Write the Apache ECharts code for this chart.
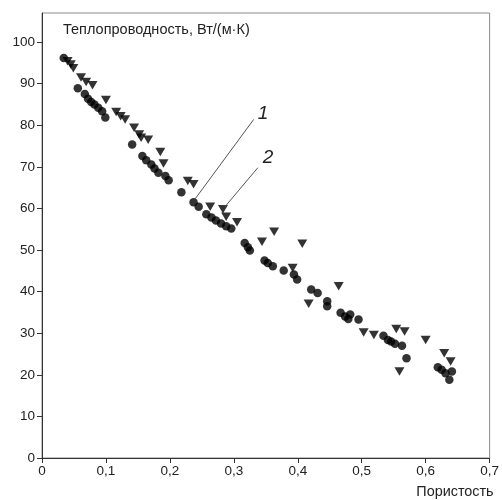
<!DOCTYPE html>
<html>
<head>
<meta charset="utf-8">
<script src="https://cdn.jsdelivr.net/npm/echarts@6/dist/echarts.min.js"></script>
<style>html,body{margin:0;padding:0;background:#fff}#c{width:502px;height:500px}</style>
</head>
<body>
<div id="c"></div>
<script>
// Series 1 (circles)
var series1 = [
  [0.034,96.2],[0.056,88.9],[0.067,87.5],[0.072,86.4],[0.077,85.6],[0.082,85.0],[0.088,84.2],[0.094,83.4],
  [0.099,81.9],[0.141,75.4],[0.157,72.6],[0.163,71.6],[0.171,70.6],[0.176,69.6],[0.182,68.6],[0.193,67.8],
  [0.198,66.8],[0.218,63.9],[0.237,61.5],[0.245,60.4],[0.257,58.6],[0.265,57.8],[0.272,57.1],[0.280,56.4],
  [0.288,55.7],[0.296,55.2],[0.317,51.7],[0.322,50.7],[0.325,49.9],[0.348,47.5],[0.353,46.9],[0.361,46.1],
  [0.378,45.1],[0.394,44.1],[0.399,42.9],[0.421,40.5],[0.431,39.7],[0.446,37.7],[0.446,36.5],[0.467,34.9],
  [0.474,34.0],[0.482,34.5],[0.479,33.4],[0.495,33.3],[0.534,29.4],[0.541,28.4],[0.546,28.0],[0.552,27.5],
  [0.563,27.0],[0.570,24.0],[0.619,21.8],[0.625,21.2],[0.631,20.4],[0.641,20.8],[0.637,18.8]
];
// Series 2 (triangles)
var series2 = [
  [0.040,95.4],[0.045,94.6],[0.049,93.7],[0.061,91.5],[0.069,90.4],[0.079,89.6],[0.100,86.1],
  [0.116,83.2],[0.123,82.2],[0.130,81.4],[0.144,79.4],[0.152,77.8],[0.155,77.0],[0.166,76.5],
  [0.185,73.6],[0.190,70.8],[0.228,66.6],[0.237,65.8],[0.263,60.4],[0.283,59.8],[0.288,58.0],
  [0.305,56.7],[0.344,52.0],[0.363,54.4],[0.392,45.7],[0.407,51.5],[0.417,37.1],[0.464,41.3],
  [0.503,30.2],[0.519,29.6],[0.554,31.0],[0.567,30.4],[0.559,20.8],[0.600,28.4],[0.629,25.2],[0.639,23.2]
];
// Leader lines for the curve labels: [from, to]
var leader1 = [[0.331,81.4],[0.2395,62.3]];
var leader2 = [[0.3375,69.8],[0.286,60.4]];
var labelPos = [[0.3456,82.7,'1'],[0.3533,72.2,'2']];
var xTicks = [0,0.1,0.2,0.3,0.4,0.5,0.6,0.7];
var yTicks = [0,10,20,30,40,50,60,70,80,90,100];

var FONT = '"Liberation Sans", Arial, sans-serif';
var chart = echarts.init(document.getElementById('c'), null, {renderer:'canvas'});
chart.setOption({
  animation:false,
  backgroundColor:'#fff',
  grid:{left:42,right:8,top:13,bottom:42,show:true,borderColor:'#8a8a8a',borderWidth:1},
  xAxis:{
    type:'value',min:xTicks[0],max:xTicks[xTicks.length-1],interval:0.1,
    name:'Пористость',nameLocation:'end',nameGap:4,
    nameTextStyle:{fontFamily:FONT,fontSize:14.4,color:'#222',align:'right',verticalAlign:'top',padding:[27,0,0,0]},
    axisLine:{lineStyle:{color:'#333',width:1}},
    axisTick:{show:true,length:5,lineStyle:{color:'#333'}},
    splitLine:{show:false},
    axisLabel:{fontFamily:FONT,fontSize:13.5,color:'#222',margin:6,
      formatter:function(v){return String(+(+v).toFixed(1)).replace('.',',');}}
  },
  yAxis:{
    type:'value',min:yTicks[0],max:107,interval:10,
    name:'Теплопроводность, Вт/(м·К)',nameLocation:'end',nameGap:-17,
    nameTextStyle:{fontFamily:FONT,fontSize:14.5,color:'#222',align:'left',verticalAlign:'middle',padding:[0,0,0,21]},
    axisLine:{show:true,lineStyle:{color:'#333',width:1}},
    axisTick:{show:true,length:5,lineStyle:{color:'#333'}},
    splitLine:{show:false},
    axisLabel:{fontFamily:FONT,fontSize:13.5,color:'#222',margin:7,showMaxLabel:false,
      formatter:function(v){return yTicks.indexOf(v)>=0?String(v):'';}}
  },
  series:[
    {type:'scatter',data:series1,symbol:'circle',symbolSize:8.5,itemStyle:{color:'#000'},
     markLine:{silent:true,symbol:['none','none'],label:{show:false},
       lineStyle:{color:'#555',width:1,type:'solid'},
       data:[[{coord:leader1[0]},{coord:leader1[1]}],[{coord:leader2[0]},{coord:leader2[1]}]]},
     markPoint:{silent:true,symbol:'circle',symbolSize:0,
       label:{show:true,fontFamily:FONT,fontSize:19,fontStyle:'italic',color:'#222',
         formatter:function(p){return p.name;}},
       data:labelPos.map(function(d){return {name:d[2],coord:[d[0],d[1]]};})}
    },
    {type:'scatter',data:series2,symbol:'triangle',symbolRotate:180,symbolSize:[10,8.5],itemStyle:{color:'#000'}}
  ]
});
</script>
</body>
</html>
